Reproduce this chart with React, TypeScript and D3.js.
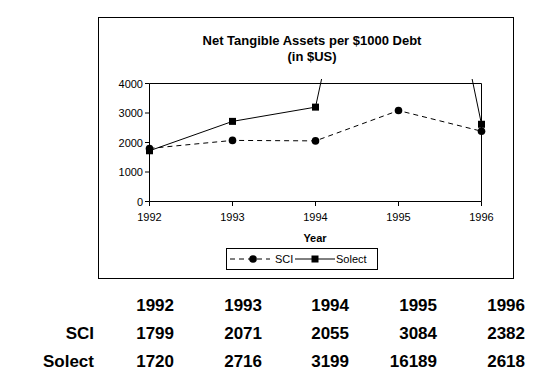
import React from "react";
import * as d3 from "d3";

const years = [1992, 1993, 1994, 1995, 1996];
const sciValues = [1799, 2071, 2055, 3084, 2382];
const solectValues = [1720, 2716, 3199, 16189, 2618];
const yTicks = [0, 1000, 2000, 3000, 4000];
const seriesNames = ["SCI", "Solect"];
const titleLines = ["Net Tangible Assets per $1000 Debt", "(in $US)"];

export default function App() {
  const W = 538, H = 379;
  const x = d3.scalePoint<number>().domain(years).range([149.5, 481.5]);
  const y = d3.scaleLinear().domain([0, 4000]).range([201.5, 83.5]);
  const line = d3.line<number>().x((_, i) => x(years[i])!).y(d => y(d));
  const font = "'Liberation Sans', Arial, sans-serif";
  const colRight = [174, 262, 349, 437, 525];
  return (
    <svg width={W} height={H} style={{ position: "absolute", left: 0, top: 0, background: "#fff" }} fontFamily={font}>
      <defs>
        <clipPath id="plotclip">
          <rect x={140} y={79} width={350} height={130} />
        </clipPath>
      </defs>
      <rect x={98.5} y={17.5} width={415} height={261} fill="none" stroke="#000" />
      {titleLines.map((t, i) => (
        <text key={i} x={312} y={44.5 + i * 16.5} textAnchor="middle" fontSize={13} fontWeight="bold">{t}</text>
      ))}
      {/* plot top & right border */}
      <line x1={149.5} x2={481.5} y1={83.5} y2={83.5} stroke="#000" />
      <line x1={481.5} x2={481.5} y1={83.5} y2={201.5} stroke="#000" />
      {/* axes */}
      <line x1={149.5} x2={149.5} y1={83.5} y2={201.5} stroke="#000" />
      <line x1={149.5} x2={481.5} y1={201.5} y2={201.5} stroke="#000" />
      {yTicks.map(t => (
        <g key={t}>
          <line x1={145} x2={149.5} y1={y(t)} y2={y(t)} stroke="#000" />
          <text x={143} y={y(t) + 4} textAnchor="end" fontSize={11}>{t}</text>
        </g>
      ))}
      {years.map(yr => (
        <g key={yr}>
          <line x1={x(yr)!} x2={x(yr)!} y1={201.5} y2={206} stroke="#000" />
          <text x={x(yr)!} y={221} textAnchor="middle" fontSize={11}>{yr}</text>
        </g>
      ))}
      <text x={315} y={242} textAnchor="middle" fontSize={11} fontWeight="bold">Year</text>
      <g clipPath="url(#plotclip)">
        <path d={line(sciValues)!} fill="none" stroke="#000" strokeDasharray="5,4" />
        <path d={line(solectValues)!} fill="none" stroke="#000" />
        {sciValues.map((v, i) => v <= 4000 && (
          <circle key={i} cx={x(years[i])!} cy={y(v)} r={3.8} fill="#000" />
        ))}
        {solectValues.map((v, i) => v <= 4000 && (
          <rect key={i} x={x(years[i])! - 3.5} y={y(v) - 3.5} width={7} height={7} fill="#000" />
        ))}
      </g>
      {/* legend */}
      <rect x={226.5} y={248.5} width={151} height={21} fill="none" stroke="#000" />
      <line x1={230} x2={270} y1={259} y2={259} stroke="#000" strokeDasharray="5,4" />
      <circle cx={253} cy={259} r={3.8} fill="#000" />
      <text x={275} y={263} fontSize={11}>{seriesNames[0]}</text>
      <line x1={295} x2={335} y1={259} y2={259} stroke="#000" />
      <rect x={311.5} y={255.5} width={7} height={7} fill="#000" />
      <text x={336} y={263} fontSize={11}>{seriesNames[1]}</text>
      {/* table */}
      {years.map((yr, i) => (
        <text key={"h" + i} x={colRight[i]} y={311} textAnchor="end" fontSize={17} fontWeight="bold">{yr}</text>
      ))}
      <text x={94} y={339} textAnchor="end" fontSize={17} fontWeight="bold">{seriesNames[0]}</text>
      {sciValues.map((v, i) => (
        <text key={"s" + i} x={colRight[i]} y={339} textAnchor="end" fontSize={17} fontWeight="bold">{v}</text>
      ))}
      <text x={94} y={367} textAnchor="end" fontSize={17} fontWeight="bold">{seriesNames[1]}</text>
      {solectValues.map((v, i) => (
        <text key={"o" + i} x={colRight[i]} y={367} textAnchor="end" fontSize={17} fontWeight="bold">{v}</text>
      ))}
    </svg>
  );
}
